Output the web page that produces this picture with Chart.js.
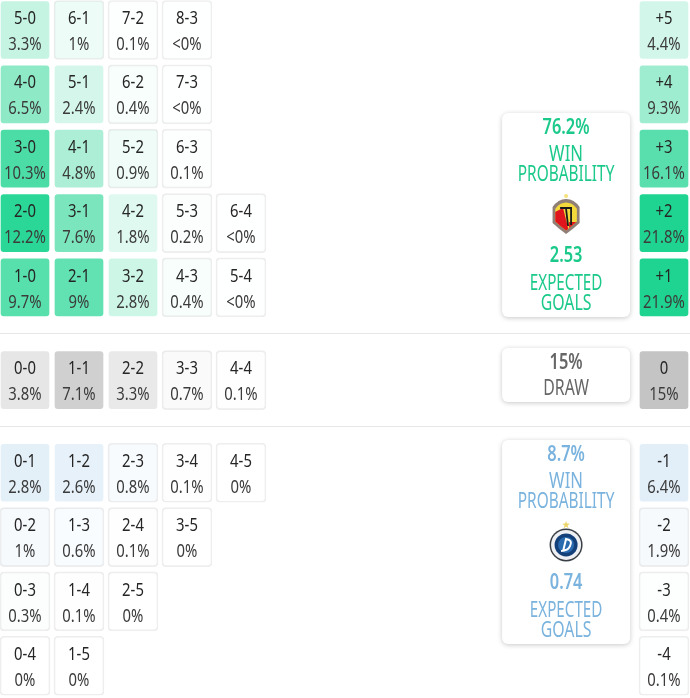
<!DOCTYPE html>
<html>
<head>
<meta charset="utf-8">
<style>
  html, body { margin: 0; padding: 0; background: #fff; }
  canvas { display: block; }
</style>
<script src="https://cdn.jsdelivr.net/npm/chart.js@4/dist/chart.umd.min.js"></script>
</head>
<body>
<canvas id="chart" width="690" height="698"></canvas>
<script>
// scorelines, top row first
const homeScores = [
  ["5-0", "6-1", "7-2", "8-3"],
  ["4-0", "5-1", "6-2", "7-3"],
  ["3-0", "4-1", "5-2", "6-3"],
  ["2-0", "3-1", "4-2", "5-3", "6-4"],
  ["1-0", "2-1", "3-2", "4-3", "5-4"],
];
// 0.04 stands for the "<0%" cells
const homeProbs = [
  [3.3, 1, 0.1, 0.04],
  [6.5, 2.4, 0.4, 0.04],
  [10.3, 4.8, 0.9, 0.1],
  [12.2, 7.6, 1.8, 0.2, 0.04],
  [9.7, 9, 2.8, 0.4, 0.04],
];
const drawScores = [["0-0", "1-1", "2-2", "3-3", "4-4"]];
const drawProbs = [[3.8, 7.1, 3.3, 0.7, 0.1]];
const awayScores = [
  ["0-1", "1-2", "2-3", "3-4", "4-5"],
  ["0-2", "1-3", "2-4", "3-5"],
  ["0-3", "1-4", "2-5"],
  ["0-4", "1-5"],
];
const awayProbs = [
  [2.8, 2.6, 0.8, 0.1, 0],
  [1, 0.6, 0.1, 0],
  [0.3, 0.1, 0],
  [0, 0],
];
const homeMargins = ["+5", "+4", "+3", "+2", "+1"];
const homeMarginProbs = [4.4, 9.3, 16.1, 21.8, 21.9];
const drawMargins = ["0"];
const drawMarginProbs = [15];
const awayMargins = ["-1", "-2", "-3", "-4"];
const awayMarginProbs = [6.4, 1.9, 0.4, 0.1];

const homeSummary = { win: "76.2%", goals: "2.53" };
const drawSummary = "15%";
const awaySummary = { win: "8.7%", goals: "0.74" };

const GREEN = "29,212,144";
const GREY = "196,196,196";
const BLUE = "122,179,221";
const FONT = '"Noto Sans", sans-serif';

const SECTION_GAP = 0.44;
const CELL_HALF = 0.4585;
const MARGIN_COL = 11.833;
const CARD_COL = 10.02;

const sectionRow = (section, i, before) => before + i + section * SECTION_GAP;

function probLabel(v) {
  if (v > 0 && v < 0.05) return "<0%";
  return v + "%";
}

function cells(scores, probs, section, before, rgb, scale) {
  const out = [];
  scores.forEach((row, r) => {
    row.forEach((label, c) => {
      const y = sectionRow(section, r, before);
      out.push({ x: c, y: [y - CELL_HALF, y + CELL_HALF], label, prob: probs[r][c], rgb, scale });
    });
  });
  return out;
}

function marginCells(labels, probs, section, before, rgb, scale) {
  return labels.map((label, r) => {
    const y = sectionRow(section, r, before);
    return { x: MARGIN_COL, y: [y - CELL_HALF, y + CELL_HALF], label, prob: probs[r], rgb, scale };
  });
}

const allCells = [
  ...cells(homeScores, homeProbs, 0, 0, GREEN, 13),
  ...cells(drawScores, drawProbs, 1, 5, GREY, 9),
  ...cells(awayScores, awayProbs, 2, 6, BLUE, 14),
  ...marginCells(homeMargins, homeMarginProbs, 0, 0, GREEN, 22),
  ...marginCells(drawMargins, drawMarginProbs, 1, 5, GREY, 15),
  ...marginCells(awayMargins, awayMarginProbs, 2, 6, BLUE, 29),
];

// squeezed text, the original font is narrower than what is installed
function text(ctx, str, x, y, size, color, weight, squeeze) {
  ctx.save();
  ctx.font = (weight || "normal") + " " + size + "px " + FONT;
  ctx.fillStyle = color;
  ctx.textAlign = "center";
  ctx.textBaseline = "middle";
  ctx.translate(x, y);
  ctx.scale(squeeze || 0.825, 1);
  ctx.fillText(str, 0, 0);
  ctx.restore();
}

function drawHomeCrest(ctx, x, y) {
  ctx.save();
  ctx.translate(x, y);
  ctx.fillStyle = "#f6e27a";
  ctx.beginPath();
  ctx.arc(0, -20, 2, 0, Math.PI * 2);
  ctx.fill();
  const shield = (s) => {
    ctx.beginPath();
    ctx.moveTo(-13.5 * s, -9 * s);
    ctx.quadraticCurveTo(-8 * s, -17 * s, 0, -17 * s);
    ctx.quadraticCurveTo(8 * s, -17 * s, 13.5 * s, -9 * s);
    ctx.lineTo(13.5 * s, 7 * s);
    ctx.quadraticCurveTo(7 * s, 13 * s, 0, 18 * s);
    ctx.quadraticCurveTo(-7 * s, 13 * s, -13.5 * s, 7 * s);
    ctx.closePath();
  };
  shield(1);
  ctx.fillStyle = "#8f7f76";
  ctx.fill();
  shield(0.8);
  ctx.fillStyle = "#f4d93c";
  ctx.fill();
  ctx.save();
  shield(0.8);
  ctx.clip();
  ctx.fillStyle = "#e0141c";
  ctx.beginPath();
  ctx.moveTo(-13, -3);
  ctx.lineTo(-3, -8);
  ctx.lineTo(3, 16);
  ctx.lineTo(-13, 16);
  ctx.closePath();
  ctx.fill();
  ctx.fillRect(3, 6, 9, 10);
  ctx.restore();
  ctx.strokeStyle = "#1a1a1a";
  ctx.lineWidth = 1.8;
  ctx.beginPath();
  ctx.moveTo(-6, -8);
  ctx.lineTo(5, -8);
  ctx.lineTo(5, 9);
  ctx.moveTo(0, -7);
  ctx.lineTo(2, 10);
  ctx.stroke();
  ctx.restore();
}

function drawAwayCrest(ctx, x, y) {
  ctx.save();
  ctx.translate(x, y);
  ctx.fillStyle = "#ecd566";
  ctx.beginPath();
  for (let i = 0; i < 10; i++) {
    const r = i % 2 ? 1.6 : 4;
    const a = -Math.PI / 2 + (i * Math.PI) / 5;
    ctx.lineTo(r * Math.cos(a), -20 + r * Math.sin(a));
  }
  ctx.closePath();
  ctx.fill();
  const disc = (r, color) => {
    ctx.fillStyle = color;
    ctx.beginPath();
    ctx.arc(0, 0, r, 0, Math.PI * 2);
    ctx.fill();
  };
  disc(16.5, "#3a3f45");
  disc(15, "#eef0f3");
  disc(11.5, "#14407a");
  disc(8, "#2a6bb0");
  ctx.strokeStyle = "#fff";
  ctx.lineWidth = 2;
  ctx.beginPath();
  ctx.moveTo(-3, 6);
  ctx.lineTo(0, -6);
  ctx.quadraticCurveTo(7, -5, 4, 1);
  ctx.quadraticCurveTo(2, 6, -5, 6);
  ctx.stroke();
  ctx.restore();
}

function roundedCard(chart, col, widthCols, rowTop, rowBottom) {
  const { ctx, scales } = chart;
  const left = scales.x.getPixelForValue(col - widthCols / 2);
  const right = scales.x.getPixelForValue(col + widthCols / 2);
  const top = scales.y.getPixelForValue(rowTop);
  const bottom = scales.y.getPixelForValue(rowBottom);
  ctx.save();
  ctx.shadowColor = "rgba(0,0,0,0.22)";
  ctx.shadowBlur = 5;
  ctx.shadowOffsetY = 1;
  ctx.fillStyle = "#fff";
  ctx.beginPath();
  ctx.roundRect(left, top, right - left, bottom - top, 6);
  ctx.fill();
  ctx.restore();
  return { x: (left + right) / 2, top };
}

function winCard(chart, rowTop, rowBottom, summary, color, crest, crestDy) {
  const { ctx } = chart;
  const card = roundedCard(chart, CARD_COL, 2.37, rowTop, rowBottom);
  text(ctx, summary.win, card.x, card.top + 15, 21, color, "600", 0.78);
  text(ctx, "WIN", card.x, card.top + 42, 22, color, "normal", 0.76);
  text(ctx, "PROBABILITY", card.x, card.top + 62, 22, color, "normal", 0.7);
  crest(ctx, card.x, card.top + crestDy);
  text(ctx, summary.goals, card.x, card.top + 143, 21, color, "600", 0.78);
  text(ctx, "EXPECTED", card.x, card.top + 171, 22, color, "normal", 0.69);
  text(ctx, "GOALS", card.x, card.top + 191, 22, color, "normal", 0.72);
}

const overlayPlugin = {
  id: "overlay",
  beforeDatasetsDraw(chart) {
    const { ctx, scales, chartArea } = chart;
    // section separators sit halfway between the neighbouring rows
    const rows = [
      (sectionRow(0, 4, 0) + sectionRow(1, 0, 5)) / 2,
      (sectionRow(1, 0, 5) + sectionRow(2, 0, 6)) / 2,
    ];
    rows.forEach((r) => {
      const y = Math.floor(scales.y.getPixelForValue(r)) + 0.5;
      ctx.save();
      ctx.strokeStyle = "#e6e6e6";
      ctx.lineWidth = 1;
      ctx.beginPath();
      ctx.moveTo(chartArea.left, y);
      ctx.lineTo(chartArea.right, y);
      ctx.stroke();
      ctx.restore();
    });
  },
  afterDatasetsDraw(chart) {
    const { ctx } = chart;
    const meta = chart.getDatasetMeta(0);
    meta.data.forEach((bar, i) => {
      const cy = (bar.y + bar.base) / 2;
      text(ctx, allCells[i].label, bar.x, cy - 11, 18, "#262626");
      text(ctx, probLabel(allCells[i].prob), bar.x, cy + 15, 18, "#3c3c3c");
    });

    winCard(chart, 1.29, 4.46, homeSummary, "#1bc98a", drawHomeCrest, 103);
    const draw = roundedCard(chart, CARD_COL, 2.37, 4.94, 5.78);
    text(ctx, drawSummary, draw.x, draw.top + 15, 21, "#666", "600", 0.78);
    text(ctx, "DRAW", draw.x, draw.top + 41, 22, "#666", "normal", 0.72);
    winCard(chart, 6.37, 9.54, awaySummary, "#7ab3dd", drawAwayCrest, 105);
  },
};

const cssWidth = 690;
const cssHeight = 698;
const colPx = 54;
const rowPx = 64.35;

new Chart(document.getElementById("chart"), {
  type: "bar",
  data: {
    datasets: [
      {
        data: allCells,
        grouped: false,
        barThickness: 50,
        borderRadius: 4,
        borderSkipped: false,
        borderWidth: 1,
        backgroundColor: (c) => {
          const p = c.raw;
          if (!p) return "#fff";
          return "rgba(" + p.rgb + "," + Math.min(1, p.prob / p.scale) + ")";
        },
        borderColor: (c) => {
          const p = c.raw;
          if (!p) return "#eee";
          return p.prob / p.scale > 0.12 ? "rgba(255,255,255,0.35)" : "#eeeeee";
        },
      },
    ],
  },
  options: {
    responsive: false,
    animation: false,
    layout: { padding: 0 },
    plugins: { legend: { display: false }, tooltip: { enabled: false } },
    scales: {
      x: {
        type: "linear",
        display: false,
        offset: false,
        min: -25 / colPx,
        max: (cssWidth - 25) / colPx,
      },
      y: {
        type: "linear",
        display: false,
        reverse: true,
        min: -30 / rowPx,
        max: (cssHeight - 30) / rowPx,
      },
    },
  },
  plugins: [overlayPlugin],
});
</script>
</body>
</html>
